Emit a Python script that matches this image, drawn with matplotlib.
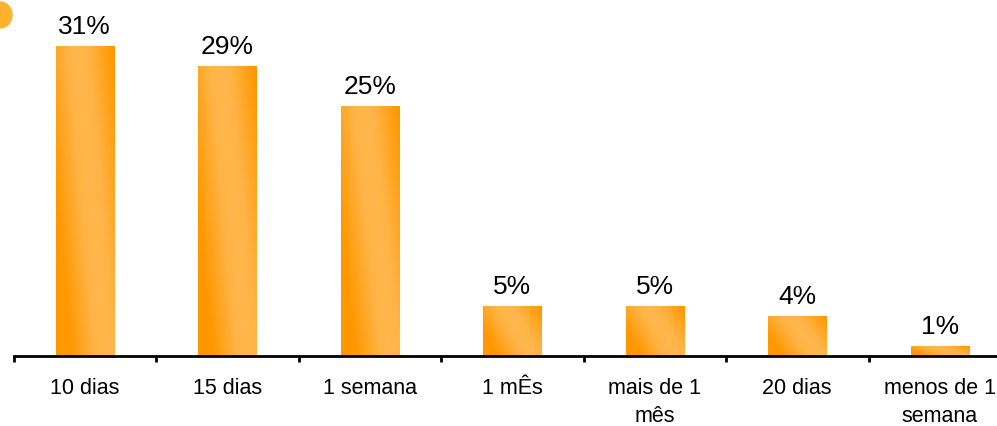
import numpy as np
import matplotlib
matplotlib.use('Agg')
import matplotlib.pyplot as plt
from matplotlib.patches import Ellipse
from matplotlib.colors import LinearSegmentedColormap

# data
categories = ['10 dias', '15 dias', '1 semana', '1 mÊs', 'mais de 1\nmês', '20 dias', 'menos de 1\nsemana']
values = [31, 29, 25, 5, 5, 4, 1]
value_labels = ['31%', '29%', '25%', '5%', '5%', '4%', '1%']

plt.rcParams['font.family'] = ['Liberation Sans', 'DejaVu Sans']

W, H = 997, 426
fig = plt.figure(figsize=(W / 100, H / 100), dpi=100)
# baseline at y=356px, 10px per percent, categories 142.5px apart
ax = fig.add_axes([13.5 / W, (H - 356) / H, 7 * 142.5 / W, 356 / H])
ax.set_xlim(-0.5, 6.5)
ax.set_ylim(0, 35.6)

# orange diagonal gradient inside each bar: light band runs from upper-left to lower-right
cmap = LinearSegmentedColormap.from_list(
    'bar', [(0, '#ffb74d'), (0.3, '#ffb446'), (1, '#ff9800')])
bar_w = 0.41
yy, xx = np.mgrid[0:1:200j, 0:1:60j]   # yy=0 bottom row
centre = 0.85 - 0.48 * yy
grad = np.clip(np.abs(xx - centre) / 0.6, 0, 1)

x = np.arange(len(categories))
bars = ax.bar(x, values, width=bar_w, color='none', zorder=2)
for b in bars:
    bx, by = b.get_x(), b.get_height()
    im = ax.imshow(grad, cmap=cmap, vmin=0, vmax=1, aspect='auto', origin='lower',
                   extent=[bx, bx + bar_w, 0, by], interpolation='bilinear', zorder=1)
    im.set_clip_path(b)

for xi, v, lab in zip(x, values, value_labels):
    ax.annotate(lab, (xi, v), xytext=(0, 5), textcoords='offset points',
                ha='center', va='bottom', fontsize=19, color='black')

for s in ['top', 'right', 'left']:
    ax.spines[s].set_visible(False)
ax.spines['bottom'].set_linewidth(2)
ax.set_yticks([])
ax.set_xticks(x)
ax.set_xticklabels(categories, fontsize=15.5, linespacing=1.4)
ax.tick_params(axis='x', which='major', length=0, pad=16)
ax.set_xticks(np.arange(-0.5, 7, 1), minor=True)
ax.tick_params(axis='x', which='minor', length=4, width=2, direction='out')

# small orange half-disc in the top-left corner
fig.patches.append(Ellipse((0, 1 - 15 / H), 24 / W, 26 / H, transform=fig.transFigure,
                           color='#ffb22e', zorder=0))

fig.savefig('out.png', dpi=100)
